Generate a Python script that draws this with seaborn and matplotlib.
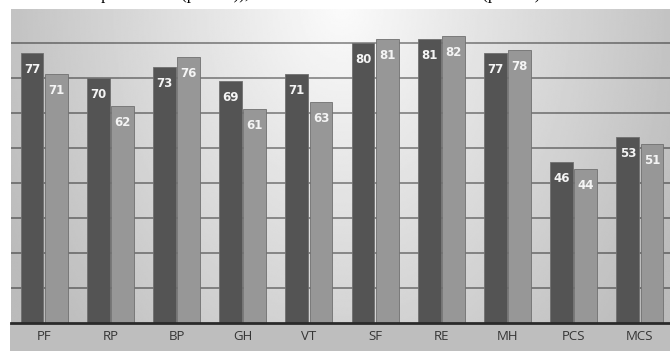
import numpy as np
import pandas as pd
import matplotlib
matplotlib.use("Agg")
import matplotlib.pyplot as plt
from matplotlib.patches import Rectangle
import seaborn as sns

# SF-36 domain scores for the two groups
domains = ["PF", "RP", "BP", "GH", "VT", "SF", "RE", "MH", "PCS", "MCS"]
group_a = [77, 70, 73, 69, 71, 80, 81, 77, 46, 53]
group_b = [71, 62, 76, 61, 63, 81, 82, 78, 44, 51]
series_names = ["Group A", "Group B"]

df = pd.DataFrame({
    "domain": domains * 2,
    "score": group_a + group_b,
    "group": [series_names[0]] * len(domains) + [series_names[1]] * len(domains),
})

sns.set_theme(style="white")
plt.rcParams["font.family"] = ["DejaVu Sans"]

W, H = 670, 351
fig = plt.figure(figsize=(W / 100, H / 100), dpi=100, facecolor="white")

# axes in pixel geometry: plot area from x=11 to 673, y=9 to 323
left, right, top, base = 11, 673, 9, 323
ax = fig.add_axes([left / W, (H - base) / H, (right - left) / W, (base - top) / H])

# shaded label band under the axis
fig.patches.append(Rectangle((10 / W, 0), 1 - 10 / W, (H - base) / H,
                             transform=fig.transFigure, facecolor="#bebebe",
                             edgecolor="none", zorder=-5))

# soft radial background gradient inside the plot area
u = np.linspace(0, 1, 400)
v = np.linspace(0, 1, 200)
U, V = np.meshgrid(u, v)
r = np.sqrt(((U - 0.50) / 0.52) ** 2 + ((V - 1.02) / 1.5) ** 2)
shade = 0.985 - 0.23 * np.clip(r, 0, 1.1)
ax.imshow(shade, cmap="gray", vmin=0, vmax=1, extent=[0, 1, 0, 1],
          origin="lower", transform=ax.transAxes, aspect="auto", zorder=0,
          interpolation="bilinear")

sns.barplot(data=df, x="domain", y="score", hue="group", order=domains,
            palette=["#545454", "#979797"], width=0.73, gap=0.05,
            edgecolor="#707070", linewidth=0.6, saturation=1, ax=ax,
            legend=False, zorder=3)

ax.set_xlim(-0.5, len(domains) - 0.5)
ax.set_ylim(0, (base - top) / 3.5)
ax.set_facecolor("none")

# horizontal gridlines behind the bars
for gy in range(10, 90, 10):
    ax.axhline(gy, color="black", alpha=0.42, lw=1.3, zorder=1)

# value labels inside the top of each bar
for cont in ax.containers:
    for patch in cont:
        h = patch.get_height()
        ax.text(patch.get_x() + patch.get_width() / 2, h - 4.6, f"{h:.0f}",
                ha="center", va="center", color="#f4f4f4", fontsize=8.5,
                fontweight="bold", zorder=5)

for s in ["left", "right", "top"]:
    ax.spines[s].set_visible(False)
ax.spines["bottom"].set_color("#2a2a2a")
ax.spines["bottom"].set_linewidth(2)
ax.spines["bottom"].set_zorder(6)

ax.set_yticks([])
ax.set_xlabel("")
ax.set_ylabel("")
ax.tick_params(axis="x", length=0, pad=5, labelsize=9.5, labelcolor="#353535",
               labelbottom=True, bottom=False)
for lab in ax.get_xticklabels():
    lab.set_family("Open Sans")
    lab.set_zorder(10)

# caption line above, running off the top edge
fig.text(0.0, 1 + 1 / H,
         "at the 6-month point so far (p<0.05)), but it was not as clear in the MCS (p<0.05)",
         ha="left", va="baseline", fontsize=12, family="Liberation Serif", color="black")

fig.savefig("out.png", dpi=100, facecolor="white")
